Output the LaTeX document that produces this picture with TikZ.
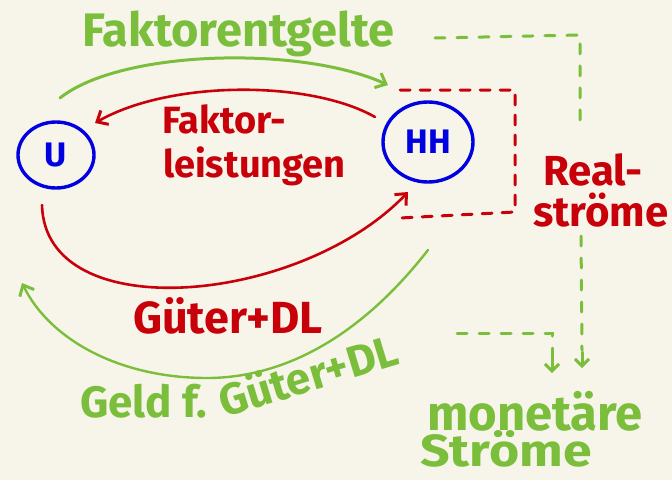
\documentclass[tikz,border=0pt]{standalone}
\usepackage{fontspec}
\setmainfont{Fira Sans}
\usetikzlibrary{arrows.meta,shapes.geometric}
\definecolor{bgc}{RGB}{247,245,234}
\definecolor{gr}{RGB}{122,190,60}
\definecolor{rd}{RGB}{200,0,10}
\definecolor{bl}{RGB}{0,0,225}
\newcommand{\fs}[1]{\fontsize{#1}{#1}\selectfont\bfseries}
\tikzset{
  grline/.style={draw=gr,line width=3pt,line cap=round},
  rdline/.style={draw=rd,line width=2.6pt,line cap=round},
  tip/.style={-{Straight Barb[length=9pt,width=16pt,line width=3pt]}},
  smalltip/.style={-{Straight Barb[length=7pt,width=14pt,line width=3pt]}},
  grdash/.style={grline,dash pattern=on 10pt off 12pt},
  rddash/.style={rdline,line width=3pt,dash pattern=on 10pt off 10pt},
  firm/.style={draw=bl,ellipse,line width=3.4pt,text=bl,inner sep=0pt,font=\fs{34}},
  grtext/.style={text=gr,inner sep=0pt,anchor=base west},
  rdtext/.style={text=rd,inner sep=0pt,anchor=base west}
}
\begin{document}
\begin{tikzpicture}[x=1pt,y=-1pt]
\fill[bgc] (0,0) rectangle (672,480);
\useasboundingbox (0,0) rectangle (672,480);
% nodes
\node[firm,minimum width=76pt,minimum height=66pt] (U) at (56,155) {U};
\node[firm,minimum width=90pt,minimum height=80pt] (HH) at (428,142) {HH};
\node[grtext,font=\fs{47}] (fe) at (82,46) {Faktorentgelte};
\node[rdtext,font=\fs{38}] (fl1) at (162,133) {Faktor-};
\node[rdtext,font=\fs{38}] (fl2) at (163,177) {leistungen};
\node[rdtext,font=\fs{42}] (rs1) at (543,185) {Real-};
\node[rdtext,font=\fs{42}] (rs2) at (533,226) {ströme};
\node[rdtext,font=\fs{45}] (gd) at (133,333) {Güter+DL};
\node[grtext,font=\fs{44}] (gg1) at (80,417) {Geld f.};
\node[grtext,rotate=17,font=\fs{44}] (gg2) at (224,418) {Güter+DL};
\node[grtext,font=\fs{49}] (ms1) at (427,430) {monetäre};
\node[grtext,font=\fs{45},xscale=1.15] (ms2) at (420,466) {Ströme};
% coordinates
\coordinate (a1) at (60,98);
\coordinate (a2) at (388,85);
\coordinate (b1) at (375,117);
\coordinate (b2) at (95,123);
\coordinate (c1) at (42,205);
\coordinate (c2) at (408,192);
\coordinate (d1) at (428,250);
\coordinate (d0) at (207,378);
\coordinate (d2) at (22,283);
% flows
\draw[grline,tip] (a1) .. controls (120,50) and (300,45) .. (a2);
\draw[rdline,tip] (b1) .. controls (310,80) and (170,80) .. (b2);
\draw[rdline,tip] (c1) .. controls (45,328) and (300,305) .. (c2);
\draw[grline,line width=2.4pt,tip] (d1) .. controls (350,350) and (270,378) .. (d0)
   .. controls (120,378) and (50,340) .. (d2);
% real flows dashed box
\draw[rddash] (400,90) -- (515,90) -- (515,212) -- (400,218);
% monetary dashed
\coordinate (m1) at (435,38);
\coordinate (m2) at (582,368);
\coordinate (n1) at (457,333);
\coordinate (n2) at (552,373);
\draw[grdash] (m1) -- (580,35) -- (580,125);
\draw[grdash] (581,236) -- (582,350);
\draw[grline,smalltip] (582,352) -- (m2);
\draw[grdash] (n1) -- (552,333) -- (552,360);
\draw[grline,smalltip] (552,358) -- (n2);
\end{tikzpicture}
\end{document}
